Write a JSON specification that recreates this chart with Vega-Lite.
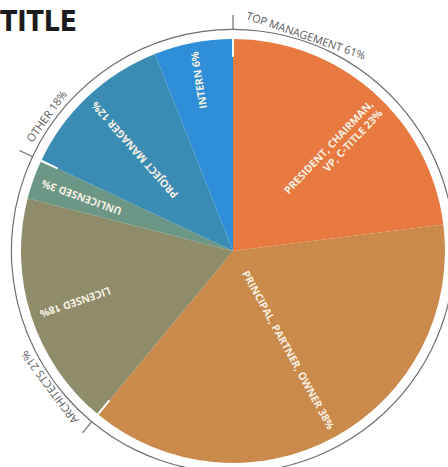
{
  "$schema": "https://vega.github.io/schema/vega-lite/v6.json",
  "width": 430,
  "height": 432,
  "autosize": "none",
  "padding": {"left": 18, "top": 35, "right": 0, "bottom": 0},
  "background": "white",
  "title": {
    "text": "TITLE",
    "anchor": "start",
    "frame": "group",
    "dx": -18,
    "dy": 53,
    "baseline": "alphabetic",
    "font": "Liberation Sans Narrow, DejaVu Sans Condensed, sans-serif",
    "fontSize": 28,
    "fontWeight": "bold",
    "color": "#1c1c1c",
    "offset": 4
  },
  "config": {"view": {"stroke": null}},
  "datasets": {
    "slices": [
      {"title": "President", "label": "PRESIDENT, CHAIRMAN,\nVP, C-TITLE 23%", "pct": 23, "order": 1},
      {"title": "Principal", "label": "PRINCIPAL, PARTNER, OWNER 38%", "pct": 38, "order": 2},
      {"title": "Licensed", "label": "LICENSED 18%", "pct": 18, "order": 3},
      {"title": "Unlicensed", "label": "UNLICENSED 3%", "pct": 3, "order": 4},
      {"title": "Project Manager", "label": "PROJECT MANAGER 12%", "pct": 12, "order": 5},
      {"title": "Intern", "label": "INTERN 6%", "pct": 6, "order": 6}
    ],
    "groups": [
      {"group": "TOP MANAGEMENT", "label": "TOP MANAGEMENT 61%", "pct": 61, "order": 1},
      {"group": "ARCHITECTS", "label": "ARCHITECTS 21%", "pct": 21, "order": 2},
      {"group": "OTHER", "label": "OTHER 18%", "pct": 18, "order": 3}
    ]
  },
  "layer": [
    {
      "data": {"name": "slices"},
      "mark": {"type": "arc", "radius": 212},
      "encoding": {
        "theta": {"field": "pct", "type": "quantitative", "stack": true, "scale": {"domain": [0, 100]}},
        "order": {"field": "order", "type": "quantitative"},
        "color": {
          "field": "title", "type": "nominal", "legend": null,
          "scale": {
            "domain": ["President", "Principal", "Licensed", "Unlicensed", "Project Manager", "Intern"],
            "range": ["#E8793F", "#C98A4B", "#8E8C69", "#6C9685", "#3A8CB5", "#2E8FD8"]
          }
        }
      }
    },
    {
      "data": {"name": "groups"},
      "transform": [{"window": [{"op": "sum", "field": "pct", "as": "cum"}], "sort": [{"field": "order"}]}],
      "mark": {"type": "arc", "radius": 212, "radius2": 194, "stroke": "white", "strokeWidth": 2, "fill": null},
      "encoding": {
        "theta": {"field": "cum", "type": "quantitative", "stack": null, "scale": {"domain": [0, 100]}},
        "theta2": {"field": "cum"}
      }
    },
    {
      "data": {"name": "groups"},
      "mark": {"type": "arc", "radius": 222.2, "radius2": 221, "theta2Offset": -0.068, "fill": "#6e6e6e"},
      "encoding": {
        "theta": {"field": "pct", "type": "quantitative", "stack": true, "scale": {"domain": [0, 100]}},
        "order": {"field": "order", "type": "quantitative"},
        "detail": {"field": "group", "type": "nominal"}
      }
    },
    {
      "data": {"name": "groups"},
      "transform": [{"window": [{"op": "sum", "field": "pct", "as": "cum"}], "sort": [{"field": "order"}]}],
      "mark": {"type": "arc", "radius": 236, "radius2": 221.5, "stroke": "#6e6e6e", "strokeWidth": 1.2, "fill": null},
      "encoding": {
        "theta": {"field": "cum", "type": "quantitative", "stack": null, "scale": {"domain": [0, 100]}},
        "theta2": {"field": "cum"}
      }
    },
    {
      "data": {"name": "groups"},
      "mark": {"type": "text", "radius": 226.5, "thetaOffset": -1.59, "angle": 19, "align": "center", "baseline": "middle", "font": "Open Sans", "fontSize": 11, "fill": "#5a5a5a"},
      "encoding": {
        "theta": {"field": "pct", "type": "quantitative", "stack": true, "scale": {"domain": [0, 100]}},
        "order": {"field": "order", "type": "quantitative"},
        "detail": {"field": "group", "type": "nominal"},
        "text": {"condition": {"test": "datum.group === 'TOP MANAGEMENT'", "field": "label", "type": "nominal"}, "value": ""}
      }
    },
    {
      "data": {"name": "groups"},
      "mark": {"type": "text", "radius": 227.5, "thetaOffset": -0.419, "angle": 233.4, "align": "center", "baseline": "middle", "font": "Open Sans", "fontSize": 11, "fill": "#5a5a5a"},
      "encoding": {
        "theta": {"field": "pct", "type": "quantitative", "stack": true, "scale": {"domain": [0, 100]}},
        "order": {"field": "order", "type": "quantitative"},
        "detail": {"field": "group", "type": "nominal"},
        "text": {"condition": {"test": "datum.group === 'ARCHITECTS'", "field": "label", "type": "nominal"}, "value": ""}
      }
    },
    {
      "data": {"name": "groups"},
      "mark": {"type": "text", "radius": 229, "thetaOffset": -0.379, "angle": 305.9, "align": "center", "baseline": "middle", "font": "Open Sans", "fontSize": 11, "fill": "#5a5a5a"},
      "encoding": {
        "theta": {"field": "pct", "type": "quantitative", "stack": true, "scale": {"domain": [0, 100]}},
        "order": {"field": "order", "type": "quantitative"},
        "detail": {"field": "group", "type": "nominal"},
        "text": {"condition": {"test": "datum.group === 'OTHER'", "field": "label", "type": "nominal"}, "value": ""}
      }
    },
    {
      "data": {"name": "slices"},
      "mark": {"type": "text", "radius": 203, "thetaOffset": 0.03, "angle": -46.5, "align": "right", "baseline": "middle", "lineBreak": "\n", "lineHeight": 13, "font": "Open Sans", "fontSize": 10.5, "fontWeight": "bold", "fill": "#F7EFE2"},
      "encoding": {
        "theta": {"field": "pct", "type": "quantitative", "stack": true, "scale": {"domain": [0, 100]}},
        "order": {"field": "order", "type": "quantitative"},
        "detail": {"field": "title", "type": "nominal"},
        "text": {"condition": {"test": "datum.title === 'President'", "field": "label", "type": "nominal"}, "value": ""}
      }
    },
    {
      "data": {"name": "slices"},
      "mark": {"type": "text", "radius": 203, "angle": 61.2, "align": "right", "baseline": "middle", "font": "Open Sans", "fontSize": 10.5, "fontWeight": "bold", "fill": "#F7EFE2"},
      "encoding": {
        "theta": {"field": "pct", "type": "quantitative", "stack": true, "scale": {"domain": [0, 100]}},
        "order": {"field": "order", "type": "quantitative"},
        "detail": {"field": "title", "type": "nominal"},
        "text": {"condition": {"test": "datum.title === 'Principal'", "field": "label", "type": "nominal"}, "value": ""}
      }
    },
    {
      "data": {"name": "slices"},
      "mark": {"type": "text", "radius": 203, "angle": 161, "align": "right", "baseline": "middle", "font": "Open Sans", "fontSize": 10.5, "fontWeight": "bold", "fill": "#F7EFE2"},
      "encoding": {
        "theta": {"field": "pct", "type": "quantitative", "stack": true, "scale": {"domain": [0, 100]}},
        "order": {"field": "order", "type": "quantitative"},
        "detail": {"field": "title", "type": "nominal"},
        "text": {"condition": {"test": "datum.title === 'Licensed'", "field": "label", "type": "nominal"}, "value": ""}
      }
    },
    {
      "data": {"name": "slices"},
      "mark": {"type": "text", "radius": 203, "angle": 200, "align": "right", "baseline": "middle", "font": "Open Sans", "fontSize": 10.5, "fontWeight": "bold", "fill": "#F7EFE2"},
      "encoding": {
        "theta": {"field": "pct", "type": "quantitative", "stack": true, "scale": {"domain": [0, 100]}},
        "order": {"field": "order", "type": "quantitative"},
        "detail": {"field": "title", "type": "nominal"},
        "text": {"condition": {"test": "datum.title === 'Unlicensed'", "field": "label", "type": "nominal"}, "value": ""}
      }
    },
    {
      "data": {"name": "slices"},
      "mark": {"type": "text", "radius": 203, "angle": 228.5, "align": "right", "baseline": "middle", "font": "Open Sans", "fontSize": 10.5, "fontWeight": "bold", "fill": "#F7EFE2"},
      "encoding": {
        "theta": {"field": "pct", "type": "quantitative", "stack": true, "scale": {"domain": [0, 100]}},
        "order": {"field": "order", "type": "quantitative"},
        "detail": {"field": "title", "type": "nominal"},
        "text": {"condition": {"test": "datum.title === 'Project Manager'", "field": "label", "type": "nominal"}, "value": ""}
      }
    },
    {
      "data": {"name": "slices"},
      "mark": {"type": "text", "radius": 203, "angle": 261, "align": "right", "baseline": "middle", "font": "Open Sans", "fontSize": 10.5, "fontWeight": "bold", "fill": "#F7EFE2"},
      "encoding": {
        "theta": {"field": "pct", "type": "quantitative", "stack": true, "scale": {"domain": [0, 100]}},
        "order": {"field": "order", "type": "quantitative"},
        "detail": {"field": "title", "type": "nominal"},
        "text": {"condition": {"test": "datum.title === 'Intern'", "field": "label", "type": "nominal"}, "value": ""}
      }
    }
  ]
}
